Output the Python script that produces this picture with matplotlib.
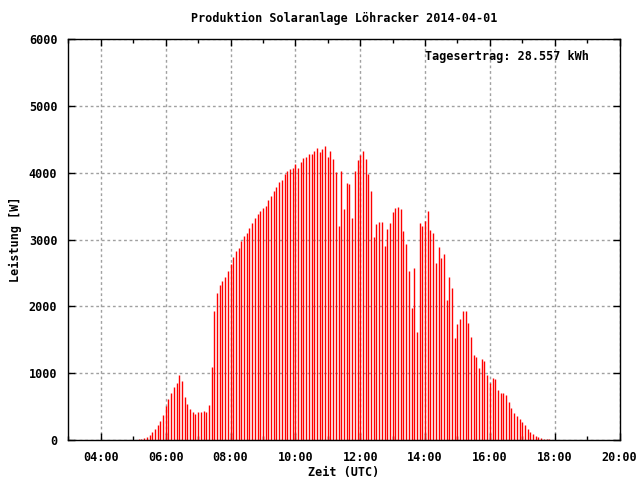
import matplotlib
matplotlib.use("Agg")
import matplotlib.pyplot as plt
import matplotlib.dates as mdates
import pandas as pd

# 5-minute readings, 2014-04-01, first at 05:10 UTC
start = "2014-04-01 05:10"
power_w = [
    15, 15, 35, 45, 75, 125, 165, 225, 285, 375,                      # 05:10-05:55
    515, 615, 705, 795, 855, 975, 885, 645, 545, 465, 425, 395,       # 06:00-06:55
    415, 420, 433, 418, 523, 1091, 1927, 2196, 2316, 2375, 2435, 2525,  # 07:00-07:55
    2634, 2734, 2824, 2868, 2973, 3048, 3093, 3167, 3242, 3317, 3376, 3421,  # 08:00-08:55
    3466, 3496, 3586, 3645, 3720, 3780, 3855, 3884, 3974, 4019, 4049, 4064,  # 09:00-09:55
    4133, 4064, 4153, 4213, 4228, 4273, 4273, 4318, 4362, 4303, 4347, 4392,  # 10:00-10:55
    4228, 4318, 4198, 4004, 3197, 4019, 3451, 3840, 3825, 3317, 4019, 4183,  # 11:00-11:55
    4258, 4318, 4198, 3974, 3720, 3033, 3227, 3257, 3257, 2898, 3152, 3242,  # 12:00-12:55
    3406, 3466, 3481, 3451, 3122, 2928, 2525, 1972, 2570, 1614, 3242, 3197,  # 13:00-13:55
    3272, 3421, 3137, 3093, 2644, 2883, 2719, 2779, 2092, 2435, 2271, 1524,  # 14:00-14:55
    1733, 1808, 1927, 1927, 1748, 1539, 1270, 1240, 1076, 1210, 1180, 971,   # 15:00-15:55
    852, 926, 911, 747, 703, 703, 673, 569, 479, 404, 359, 314,              # 16:00-16:55
    269, 224, 165, 120, 90, 60, 45, 30, 15, 15, 15,                         # 17:00-17:50
]
title = "Produktion Solaranlage Löhracker 2014-04-01"
yield_text = "Tagesertrag: 28.557 kWh"

times = pd.date_range(start, periods=len(power_w), freq="5min")

font = {"family": "DejaVu Sans Mono", "weight": "bold", "size": 8.5}

fig = plt.figure(figsize=(6.4, 4.8), dpi=100)
ax = fig.add_axes([0.107, 0.083, 0.861, 0.836])

ax.grid(True, color="#a0a0a0", linestyle=(0, (2, 2)), linewidth=1)
ax.set_axisbelow(True)
ax.vlines(times, 0, power_w, color="red", linewidth=1.0)

ax.set_xlim(pd.Timestamp("2014-04-01 03:00"), pd.Timestamp("2014-04-01 20:00"))
ax.set_ylim(0, 6000)
ax.xaxis.set_major_locator(mdates.HourLocator(byhour=range(4, 21, 2)))
ax.xaxis.set_minor_locator(mdates.HourLocator(byhour=range(3, 21, 2)))
ax.xaxis.set_major_formatter(mdates.DateFormatter("%H:%M"))
ax.set_yticks(range(0, 6001, 1000))

ax.tick_params(which="both", direction="in", top=True, right=True, width=1)
ax.tick_params(which="major", length=5, pad=8)
ax.tick_params(which="minor", length=3)
for lab in ax.get_xticklabels() + ax.get_yticklabels():
    lab.set_fontfamily(font["family"])
    lab.set_fontweight("bold")
    lab.set_fontsize(font["size"])
for sp in ax.spines.values():
    sp.set_color("black")
    sp.set_linewidth(1)

ax.set_title(title, fontdict=font, pad=12)
ax.set_xlabel("Zeit (UTC)", fontdict=font, labelpad=1)
ax.set_ylabel("Leistung [W]", fontdict=font, labelpad=5)
ax.text(0.647, 0.956, yield_text, transform=ax.transAxes, ha="left", va="center", **font)

fig.savefig("out.png", dpi=100)
